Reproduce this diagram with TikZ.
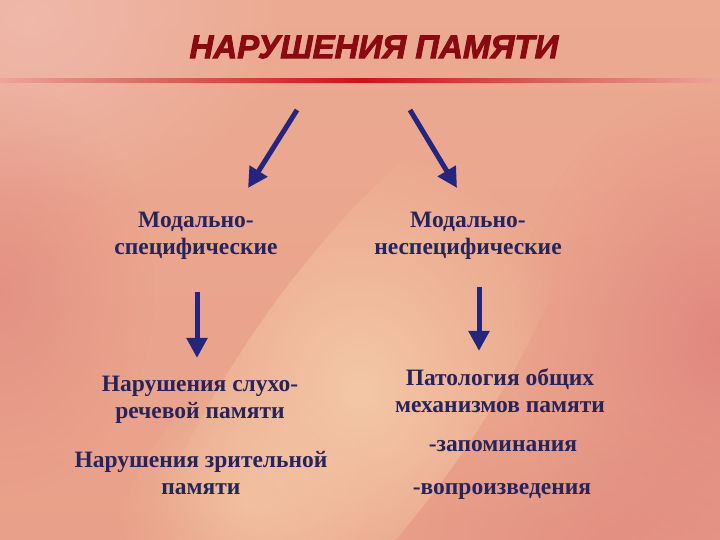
\documentclass[tikz,border=0pt]{standalone}
\usepackage{fontspec}
\setmainfont{Liberation Serif}
\newfontfamily\titlefont{Liberation Sans}
\usetikzlibrary{arrows.meta,fadings}
\begin{tikzfadingfrompicture}[name=softfade]
\path (-1cm,-1cm) rectangle (1cm,1cm);
\shade[inner color=transparent!0, outer color=transparent!100] (0,0) circle (0.75cm);
\end{tikzfadingfrompicture}
\definecolor{bgbase}{HTML}{E9A08A}
\definecolor{bgtop}{HTML}{ECAA92}
\definecolor{bgpink}{HTML}{F0BCB0}
\definecolor{bgdark}{HTML}{DC7A78}
\definecolor{bandc}{HTML}{F5CCA8}
\definecolor{linered}{HTML}{C8141A}
\definecolor{lineedge}{HTML}{EDA598}
\definecolor{titlered}{HTML}{8A0A12}
\definecolor{txtnavy}{HTML}{27245C}
\definecolor{arrnavy}{HTML}{25257E}
\tikzset{
  lbl/.style={text=txtnavy, align=center, font=\bfseries\fontsize{23.5}{27}\selectfont},
  bigarrow/.style={draw=arrnavy, line width=5pt, -{Triangle[width=20pt,length=20pt]}},
}
\newcommand{\heavytext}[1]{\special{pdf:literal direct 0.54 0.04 0.07 RG 0.9 w 2 Tr}#1\special{pdf:literal direct 0 Tr}}
\begin{document}
\begin{tikzpicture}[x=1pt,y=1pt]
\useasboundingbox (0,0) rectangle (720,540);
% background
\shade[top color=bgtop, bottom color=bgbase] (0,0) rectangle (720,540);
\fill[bgpink, opacity=0.8, path fading=softfade] (30,520) ellipse [x radius=300, y radius=240];
\fill[bgdark, opacity=0.65, path fading=softfade] (720,200) ellipse [x radius=240, y radius=300];
\fill[bgdark, opacity=0.45, path fading=softfade] (0,250) ellipse [x radius=180, y radius=240];
\fill[bgdark, opacity=0.4, path fading=softfade] (600,0) ellipse [x radius=260, y radius=150];
\fill[bandc, opacity=0.9, path fading=softfade] (360,150) ellipse [x radius=360, y radius=120, rotate=55];
\fill[bandc, opacity=0.6, path fading=softfade] (250,40) ellipse [x radius=190, y radius=110, rotate=55];
% title line
\shade[left color=lineedge, right color=lineedge, middle color=linered] (0,457) rectangle (720,461);
% title
\node (title) [text=titlered, font=\titlefont\bfseries\itshape\fontsize{33}{38}\selectfont] at (374,493) {\heavytext{НАРУШЕНИЯ ПАМЯТИ}};
% labels
\node (ms) [lbl] at (196,304.5) {Модально-\\специфические};
\node (mn) [lbl] at (468,304.5) {Модально-\\неспецифические};
\node (sl) [lbl] at (200,140) {Нарушения слухо-\\речевой памяти};
\node (zr) [lbl] at (201,67) {Нарушения зрительной\\памяти};
\node (pt) [lbl] at (500,149) {Патология общих\\механизмов памяти};
\node (zap) [lbl] at (503,94) {-запоминания};
\node (vop) [lbl] at (502,49) {-вопроизведения};
% arrow ends
\coordinate (a1s) at (297,430);
\coordinate (a1e) at (248,352);
\coordinate (a2s) at (410,430);
\coordinate (a2e) at (457,352);
\coordinate (a3s) at (197,248);
\coordinate (a3e) at (197,182);
\coordinate (a4s) at (479,253);
\coordinate (a4e) at (479,189);
\draw[bigarrow] (a1s) -- (a1e);
\draw[bigarrow] (a2s) -- (a2e);
\draw[bigarrow] (a3s) -- (a3e);
\draw[bigarrow] (a4s) -- (a4e);
\end{tikzpicture}
\end{document}
